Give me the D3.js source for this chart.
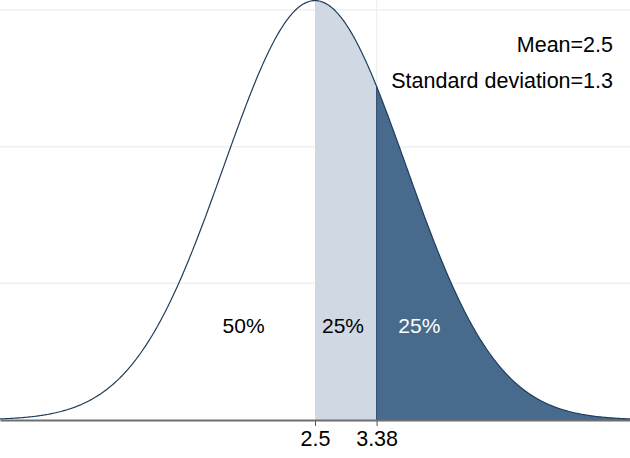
<!DOCTYPE html>
<html>
<head>
<meta charset="utf-8">
<script src="https://cdn.jsdelivr.net/npm/d3@7"></script>
<style>
    body { margin: 0; background: #fff; }
    svg { display: block; font-family: "Liberation Sans", Arial, sans-serif; }
</style>
</head>
<body>
<svg id="chart" width="630" height="458"></svg>
<script>

// ##################################################
// #  Data                                          #
// ##################################################

const mean = 2.5;
const sd = 1.3;
const xDomain = [-2, 7];
const cutoffs = [2.5, 3.38];
const tickValues = [2.5, 3.38];
const tickLabels = ['2.5', '3.38'];
const gridValues = [0.1, 0.2, 0.3];
const regionLabels = ['50%', '25%', '25%'];
const regionLabelX = [1.48, 2.9, 3.99];
const notes = ['Mean=2.5', 'Standard deviation=1.3'];

// ##################################################
// #  Chart                                         #
// ##################################################

let width = 630;
let baseY = 420;

let svg = d3.select('#chart');

let x = d3.scaleLinear()
    .domain(xDomain)
    .range([0, width]);

let y = d3.scaleLinear()
    .domain([0, 0.3073])
    .range([baseY, 0]);

function density(v) {
    let z = (v - mean) / sd;
    return Math.exp(-0.5 * z * z) / (sd * Math.sqrt(2 * Math.PI));
}

// sample the curve over the axis range
let curve = d3.range(0, 601).map(i => {
    let v = xDomain[0] + (xDomain[1] - xDomain[0]) * i / 600;
    return {x: v, y: density(v)};
});

function slice(a, b) {
    let pts = curve.filter(d => d.x > a && d.x < b);
    return [{x: a, y: density(a)}].concat(pts, [{x: b, y: density(b)}]);
}

// grid
svg.append('g')
    .selectAll('line')
    .data(gridValues)
    .enter()
    .append('line')
    .attr('x1', 0)
    .attr('x2', width)
    .attr('y1', d => y(d))
    .attr('y2', d => y(d))
    .attr('stroke', '#eef0f2')
    .attr('stroke-width', 1.5);

svg.append('line')
    .attr('x1', x(cutoffs[1]))
    .attr('x2', x(cutoffs[1]))
    .attr('y1', 0)
    .attr('y2', baseY)
    .attr('stroke', '#eef0f2')
    .attr('stroke-width', 1.5);

let area = d3.area()
    .x(d => x(d.x))
    .y0(baseY)
    .y1(d => y(d.y));

svg.append('path')
    .datum(slice(cutoffs[0], cutoffs[1]))
    .attr('d', area)
    .attr('fill', '#d0d9e3');

svg.append('path')
    .datum(slice(cutoffs[1], xDomain[1]))
    .attr('d', area)
    .attr('fill', '#486b8d');

svg.append('line')
    .attr('x1', x(cutoffs[1]))
    .attr('x2', x(cutoffs[1]))
    .attr('y1', y(density(cutoffs[1])))
    .attr('y2', baseY)
    .attr('stroke', '#2a4a6b')
    .attr('stroke-width', 1);

let line = d3.line()
    .x(d => x(d.x))
    .y(d => y(d.y));

svg.append('path')
    .datum(curve)
    .attr('d', line)
    .attr('fill', 'none')
    .attr('stroke', '#1f3d5c')
    .attr('stroke-width', 1.2);

// axis
let axis = d3.axisBottom(x)
    .tickValues(tickValues)
    .tickFormat((d, i) => tickLabels[i])
    .tickSize(6)
    .tickSizeOuter(0);

let axisGroup = svg.append('g')
    .attr('transform', `translate(0,${baseY})`)
    .call(axis);

axisGroup.select('.domain')
    .attr('stroke', '#6e6e6e')
    .attr('stroke-width', 2);

axisGroup.selectAll('.tick line')
    .attr('stroke', '#555')
    .attr('y1', 1);

axisGroup.selectAll('.tick text')
    .attr('y', 11)
    .attr('fill', '#000')
    .style('font-size', '21.5px')
    .style('font-family', '"Liberation Sans", Arial, sans-serif');

// region labels
svg.append('g')
    .selectAll('text')
    .data(regionLabels)
    .enter()
    .append('text')
    .attr('x', (d, i) => x(regionLabelX[i]))
    .attr('y', 333)
    .attr('text-anchor', 'middle')
    .attr('fill', (d, i) => i === 2 ? '#fff' : '#000')
    .style('font-size', '21px')
    .text(d => d);

// notes
svg.append('g')
    .selectAll('text')
    .data(notes)
    .enter()
    .append('text')
    .attr('x', 613)
    .attr('y', (d, i) => 52 + i * 36)
    .attr('text-anchor', 'end')
    .attr('fill', '#000')
    .style('font-size', '21.5px')
    .text(d => d);

</script>
</body>
</html>
